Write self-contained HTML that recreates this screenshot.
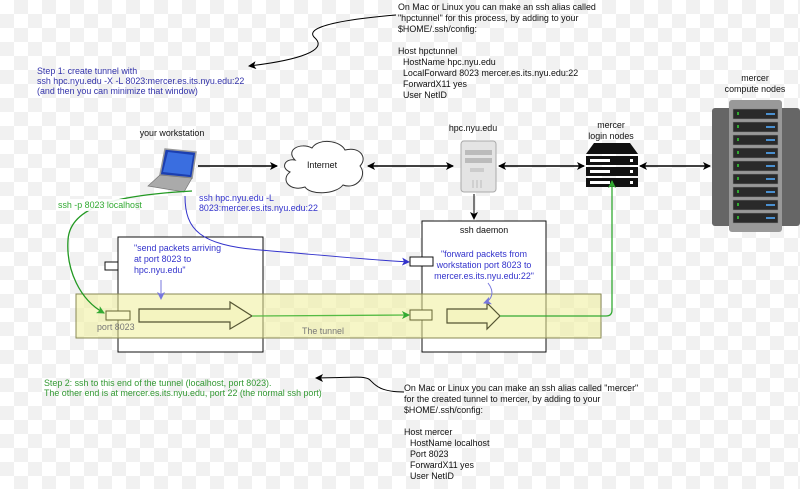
<!DOCTYPE html>
<html><head><meta charset="utf-8"><style>
html,body{margin:0;padding:0}
body{width:800px;height:489px;overflow:hidden;background-color:#fff;
background-image:linear-gradient(45deg,#f1f1f1 25%,transparent 25%,transparent 75%,#f1f1f1 75%),linear-gradient(45deg,#f1f1f1 25%,transparent 25%,transparent 75%,#f1f1f1 75%);
background-size:28px 28px;background-position:0 0,14px 14px}
svg{position:absolute;left:0;top:0}
text{font-family:"Liberation Sans",sans-serif;font-size:8.9px}
</style></head><body>
<svg width="800" height="489" viewBox="0 0 800 489">
<defs>
<marker id="ab" markerWidth="8" markerHeight="8" refX="7" refY="4" orient="auto" markerUnits="userSpaceOnUse"><path d="M0,0 L8,4 L0,8 L2,4z" fill="#000"/></marker>
<marker id="abs" markerWidth="8" markerHeight="8" refX="1" refY="4" orient="auto" markerUnits="userSpaceOnUse"><path d="M8,0 L0,4 L8,8 L6,4z" fill="#000"/></marker>
<marker id="ag" markerWidth="8" markerHeight="8" refX="7" refY="4" orient="auto" markerUnits="userSpaceOnUse"><path d="M0,0 L8,4 L0,8 L2,4z" fill="#33aa33"/></marker>
<marker id="au" markerWidth="8" markerHeight="8" refX="7" refY="4" orient="auto" markerUnits="userSpaceOnUse"><path d="M0,0 L8,4 L0,8 L2,4z" fill="#3333cc"/></marker>
<marker id="al" markerWidth="8" markerHeight="8" refX="7" refY="4" orient="auto" markerUnits="userSpaceOnUse"><path d="M0,0 L8,4 L0,8 L2,4z" fill="#7777dd"/></marker>
</defs>

<g fill="#111">
<text x="398" y="10">On Mac or Linux you can make an ssh alias called</text>
<text x="398" y="21">"hpctunnel" for this process, by adding to your</text>
<text x="398" y="32">$HOME/.ssh/config:</text>
<text x="398" y="54">Host hpctunnel</text>
<text x="403" y="65">HostName hpc.nyu.edu</text>
<text x="403" y="76">LocalForward 8023 mercer.es.its.nyu.edu:22</text>
<text x="403" y="87">ForwardX11 yes</text>
<text x="403" y="98">User NetID</text>
</g>
<path d="M396,15 C360,18 300,25 315,38 C328,50 300,60 249,66" fill="none" stroke="#000" stroke-width="1" marker-end="url(#ab)"/>

<g fill="#3333aa">
<text x="37" y="74">Step 1: create tunnel with</text>
<text x="37" y="84">ssh hpc.nyu.edu -X -L 8023:mercer.es.its.nyu.edu:22</text>
<text x="37" y="94">(and then you can minimize that window)</text>
</g>

<text x="172" y="136" text-anchor="middle" fill="#111">your workstation</text>
<polygon points="165,149 196,152 192,178 160,175" fill="#1c3fb0" stroke="#999" stroke-width="1.5"/>
<polygon points="168,152 193,155 190,175 163,172" fill="#3a6ee0"/>
<polygon points="160,175 192,178 184,192 148,186" fill="#aaa" stroke="#777" stroke-width="0.7"/>

<path d="M295,160 C285,150 300,142 312,148 C318,138 340,140 345,150 C360,146 368,158 360,166 C368,176 356,190 343,185 C335,195 310,195 305,187 C290,192 280,180 290,172 C280,168 285,158 295,160z" fill="#fff" stroke="#333" stroke-width="1"/>
<text x="322" y="168" text-anchor="middle" fill="#111">Internet</text>

<line x1="198" y1="166" x2="277" y2="166" stroke="#000" stroke-width="1.5" marker-end="url(#ab)"/>
<line x1="368" y1="166" x2="453" y2="166" stroke="#000" stroke-width="1.5" marker-start="url(#abs)" marker-end="url(#ab)"/>
<line x1="499" y1="166" x2="584" y2="166" stroke="#000" stroke-width="1.5" marker-start="url(#abs)" marker-end="url(#ab)"/>
<line x1="640" y1="166" x2="710" y2="166" stroke="#000" stroke-width="1.5" marker-start="url(#abs)" marker-end="url(#ab)"/>

<text x="473" y="131" text-anchor="middle" fill="#111">hpc.nyu.edu</text>
<rect x="461" y="141" width="35" height="51" rx="3" fill="#e4e4e4" stroke="#aaa"/>
<rect x="465" y="150" width="27" height="5" fill="#bbb"/><rect x="465" y="158" width="27" height="5" fill="#bbb"/>
<rect x="470" y="168" width="14" height="4" fill="#ccc"/>
<line x1="473" y1="180" x2="473" y2="188" stroke="#bbb"/><line x1="477" y1="180" x2="477" y2="188" stroke="#bbb"/><line x1="481" y1="180" x2="481" y2="188" stroke="#bbb"/>
<line x1="474" y1="194" x2="474" y2="219" stroke="#000" stroke-width="1" marker-end="url(#ab)"/>

<text x="611" y="128" text-anchor="middle" fill="#111">mercer</text>
<text x="611" y="139" text-anchor="middle" fill="#111">login nodes</text>
<polygon points="594,143 630,143 638,154 586,154" fill="#111"/>
<rect x="586" y="156" width="52" height="9" fill="#111"/>
<rect x="586" y="167" width="52" height="9" fill="#111"/>
<rect x="586" y="178" width="52" height="9" fill="#111"/>
<g fill="#fff"><rect x="590" y="159" width="20" height="3"/><rect x="630" y="159" width="3" height="3"/>
<rect x="590" y="170" width="20" height="3"/><rect x="630" y="170" width="3" height="3"/>
<rect x="590" y="181" width="20" height="3"/><rect x="630" y="181" width="3" height="3"/></g>

<text x="755" y="81" text-anchor="middle" fill="#111">mercer</text>
<text x="755" y="92" text-anchor="middle" fill="#111">compute nodes</text>
<rect x="712" y="108" width="88" height="118" rx="3" fill="#666"/>
<rect x="729" y="100" width="53" height="132" rx="3" fill="#999"/>
<g fill="#2a2a2a" stroke="#888" stroke-width="0.5">
<rect x="733" y="109" width="45" height="10"/><rect x="733" y="122" width="45" height="10"/><rect x="733" y="135" width="45" height="10"/>
<rect x="733" y="148" width="45" height="10"/><rect x="733" y="161" width="45" height="10"/><rect x="733" y="174" width="45" height="10"/>
<rect x="733" y="187" width="45" height="10"/><rect x="733" y="200" width="45" height="10"/><rect x="733" y="213" width="45" height="10"/>
</g>
<g fill="#4a90d0">
<rect x="766" y="113" width="9" height="2"/><rect x="766" y="126" width="9" height="2"/><rect x="766" y="139" width="9" height="2"/>
<rect x="766" y="152" width="9" height="2"/><rect x="766" y="165" width="9" height="2"/><rect x="766" y="178" width="9" height="2"/>
<rect x="766" y="191" width="9" height="2"/><rect x="766" y="204" width="9" height="2"/><rect x="766" y="217" width="9" height="2"/>
</g>
<g fill="#3a3">
<rect x="737" y="112" width="2" height="3"/><rect x="737" y="125" width="2" height="3"/><rect x="737" y="138" width="2" height="3"/>
<rect x="737" y="151" width="2" height="3"/><rect x="737" y="164" width="2" height="3"/><rect x="737" y="177" width="2" height="3"/>
<rect x="737" y="190" width="2" height="3"/><rect x="737" y="203" width="2" height="3"/><rect x="737" y="216" width="2" height="3"/>
</g>

<rect x="118" y="237" width="145" height="115" fill="#fff" stroke="#111"/>
<rect x="105" y="262" width="13" height="8" fill="#fff" stroke="#111"/>
<g fill="#3333cc">
<text x="134" y="251">"send packets arriving</text>
<text x="134" y="262">at port 8023 to</text>
<text x="134" y="273">hpc.nyu.edu"</text>
</g>
<rect x="422" y="221" width="124" height="131" fill="#fff" stroke="#111"/>
<text x="484" y="233" text-anchor="middle" fill="#111">ssh daemon</text>
<rect x="410" y="257" width="23" height="9" fill="#fff" stroke="#111"/>
<g fill="#3333cc" text-anchor="middle">
<text x="484" y="257">"forward packets from</text>
<text x="484" y="268">workstation port 8023 to</text>
<text x="484" y="279">mercer.es.its.nyu.edu:22"</text>
</g>

<rect x="76" y="294" width="525" height="44" fill="#eeee99" fill-opacity="0.55" stroke="#888855" stroke-width="1"/>
<rect x="106" y="311" width="24" height="9" fill="#f7f7c8" stroke="#666633"/>
<text x="97" y="330" fill="#777">port 8023</text>
<text x="323" y="334" text-anchor="middle" fill="#777">The tunnel</text>
<polygon points="139,309 230,309 230,302 252,316 230,329 230,322 139,322" fill="#f4f4c0" stroke="#555533" stroke-width="1.2"/>
<rect x="410" y="310" width="22" height="10" fill="#f7f7c8" stroke="#666633"/>
<polygon points="447,309 487,309 487,303 500,316 487,329 487,323 447,323" fill="#f4f4c0" stroke="#555533" stroke-width="1.2"/>

<line x1="252" y1="316" x2="409" y2="315" stroke="#55bb44" stroke-width="1.3" marker-end="url(#ag)"/>
<path d="M500,316 L606,316 Q612,316 612,310 L612,181" fill="none" stroke="#33aa33" stroke-width="1.3" marker-end="url(#ag)"/>
<path d="M192,191 C120,195 70,205 68,240 C66,270 80,300 104,313" fill="none" stroke="#229922" stroke-width="1.3" marker-end="url(#ag)"/>
<rect x="56" y="199" width="80" height="12" fill="#fff" fill-opacity="0.9"/>
<text x="58" y="208" fill="#33aa33">ssh -p 8023 localhost</text>

<path d="M185,196 C185,230 200,245 260,250 C320,255 370,260 409,262" fill="none" stroke="#3333cc" stroke-width="1" marker-end="url(#au)"/>
<g fill="#3333cc"><text x="199" y="201">ssh hpc.nyu.edu -L</text><text x="199" y="211">8023:mercer.es.its.nyu.edu:22</text></g>
<line x1="161" y1="280" x2="161" y2="299" stroke="#7777dd" stroke-width="1" marker-end="url(#al)"/>
<path d="M488,283 C495,292 492,300 484,303" fill="none" stroke="#7777dd" stroke-width="1" marker-end="url(#al)"/>

<g fill="#339933">
<text x="44" y="386">Step 2: ssh to this end of the tunnel (localhost, port 8023).</text>
<text x="44" y="396">The other end is at mercer.es.its.nyu.edu, port 22 (the normal ssh port)</text>
</g>
<path d="M404,392 C380,392 375,385 370,380 C365,375 350,378 316,378" fill="none" stroke="#000" stroke-width="1" marker-end="url(#ab)"/>
<g fill="#111">
<text x="404" y="391">On Mac or Linux you can make an ssh alias called "mercer"</text>
<text x="404" y="402">for the created tunnel to mercer, by adding to your</text>
<text x="404" y="413">$HOME/.ssh/config:</text>
<text x="404" y="435">Host mercer</text>
<text x="410" y="446">HostName localhost</text>
<text x="410" y="457">Port 8023</text>
<text x="410" y="468">ForwardX11 yes</text>
<text x="410" y="479">User NetID</text>
</g>
</svg>
</body></html>
